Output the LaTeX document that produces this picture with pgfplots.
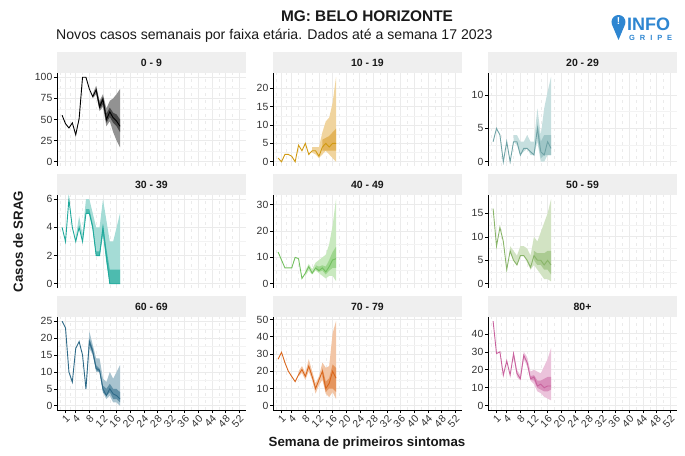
\documentclass[border=0pt]{standalone}
\usepackage{fontspec}
\setmainfont{Liberation Sans}
\usepackage{pgfplots}
\pgfplotsset{compat=1.18}
\definecolor{gridmaj}{HTML}{EBEBEB}
\definecolor{gridmin}{HTML}{F3F3F3}
\definecolor{stripc}{HTML}{EFEFEF}
\definecolor{logoblue}{HTML}{2E86D1}
% series colours: line, inner band, outer band
\definecolor{aL}{HTML}{000000}\definecolor{aI}{HTML}{474747}\definecolor{aO}{HTML}{929292}
\definecolor{bL}{HTML}{D19A12}\definecolor{bI}{HTML}{E3B45A}\definecolor{bO}{HTML}{F0D49E}
\definecolor{cL}{HTML}{6FA3A6}\definecolor{cI}{HTML}{9FC6C7}\definecolor{cO}{HTML}{C6DFDF}
\definecolor{dL}{HTML}{1FA99C}\definecolor{dI}{HTML}{4DBBAF}\definecolor{dO}{HTML}{A5DCD6}
\definecolor{eL}{HTML}{73C05F}\definecolor{eI}{HTML}{9ED68E}\definecolor{eO}{HTML}{C9E9BF}
\definecolor{fL}{HTML}{8AB56A}\definecolor{fI}{HTML}{ABCB92}\definecolor{fO}{HTML}{D2E3C3}
\definecolor{gL}{HTML}{2E6A88}\definecolor{gI}{HTML}{5F8FA6}\definecolor{gO}{HTML}{A8C3CF}
\definecolor{hL}{HTML}{D9661C}\definecolor{hI}{HTML}{E5955E}\definecolor{hO}{HTML}{F2C5A5}
\definecolor{iL}{HTML}{C9629E}\definecolor{iI}{HTML}{D98FBB}\definecolor{iO}{HTML}{EBC3DB}
\pgfplotsset{
  /pgf/number format/assume math mode=true,
  panel/.style={
    scale only axis, width=189pt, height=93pt,
    xmin=-1.5, xmax=54,
    axis x line*=bottom, axis y line*=left,
    axis line style={line width=0.7pt, black},
    xtick={1,4,8,12,16,20,24,28,32,36,40,44,48,52},
    minor xtick={-0.5,2.5,6,10,14,18,22,26,30,34,38,42,46,50},
    minor y tick num=1,
    xmajorgrids, ymajorgrids, xminorgrids, yminorgrids,
    major grid style={gridmaj, line width=0.7pt},
    minor grid style={gridmin, line width=0.5pt},
    minor x grid style={gridmaj, line width=0.5pt, dash pattern=on 3pt off 4pt},
    tick align=outside, major tick length=3pt, minor tick length=0pt,
    tick style={black, line width=0.6pt},
    ticklabel style={font=\fontsize{10.4}{11}\selectfont, text=black!80},
    yticklabel style={/pgf/number format/fixed, inner sep=1.5pt},
    xticklabel style={rotate=45, anchor=north east, inner sep=1pt},
  },
  toprow/.style={xticklabels={}, x axis line style={draw=none}, xtick style={draw=none}},
  ln/.style={line width=0.9pt, #1},
}
\newcommand{\striplabel}[2]{\node[font=\bfseries\fontsize{10.5}{12}\selectfont, text=black!90] at (#1) {#2};}
\begin{document}
\begin{tikzpicture}
\path[use as bounding box] (0pt,0pt) rectangle (685pt,455pt);
% titles
\node[font=\bfseries\fontsize{15.4}{17}\selectfont, text=black!90] at (367pt,439pt) {MG: BELO HORIZONTE};
\node[anchor=west, inner sep=0pt, font=\fontsize{14.1}{16}\selectfont, text=black!90] at (56pt,419pt) {Novos casos semanais por faixa etária. Dados até a semana 17 2023};
% logo
\fill[logoblue] (618.5pt,415pt) -- (611.9pt,430.6pt) arc[start angle=200, end angle=-20, radius=7pt] -- cycle;
\node[text=white, font=\bfseries\fontsize{10}{10}\selectfont] at (618.5pt,433.5pt) {!};
\node[anchor=west, inner sep=0pt, text=logoblue, font=\bfseries\fontsize{18}{18}\selectfont] at (627pt,431pt) {INFO};
\node[anchor=west, inner sep=0pt, text=logoblue, font=\bfseries\fontsize{7.5}{8}\selectfont] at (629pt,417.5pt) {\makebox[43pt][s]{G\hfill R\hfill I\hfill P\hfill E}};
% axis titles
\node[rotate=90, font=\bfseries\fontsize{13.3}{15}\selectfont, text=black!90] at (18pt,213.5pt) {Casos de SRAG};
\node[font=\bfseries\fontsize{13.3}{15}\selectfont, text=black!90] at (367pt,12pt) {Semana de primeiros sintomas};
% strips
\fill[stripc] (57pt,382pt) rectangle (246pt,403pt);
\fill[stripc] (273pt,382pt) rectangle (462pt,403pt);
\fill[stripc] (488pt,382pt) rectangle (677pt,403pt);
\fill[stripc] (57pt,260pt) rectangle (246pt,281pt);
\fill[stripc] (273pt,260pt) rectangle (462pt,281pt);
\fill[stripc] (488pt,260pt) rectangle (677pt,281pt);
\fill[stripc] (57pt,138pt) rectangle (246pt,159pt);
\fill[stripc] (273pt,138pt) rectangle (462pt,159pt);
\fill[stripc] (488pt,138pt) rectangle (677pt,159pt);
\striplabel{151.5pt,392.5pt}{0 - 9}
\striplabel{367.5pt,392.5pt}{10 - 19}
\striplabel{582.5pt,392.5pt}{20 - 29}
\striplabel{151.5pt,270.5pt}{30 - 39}
\striplabel{367.5pt,270.5pt}{40 - 49}
\striplabel{582.5pt,270.5pt}{50 - 59}
\striplabel{151.5pt,148.5pt}{60 - 69}
\striplabel{367.5pt,148.5pt}{70 - 79}
\striplabel{582.5pt,148.5pt}{80+}

% ---------- 0 - 9
\begin{axis}[panel, toprow, at={(57pt,382pt)}, anchor=north west,
  ymin=-5, ymax=105, ytick={0,25,50,75,100}]
\addplot[fill=aO, draw=none] coordinates {(9,80)(10,90)(11,72)(12,80)(13,63)(14,72)(15,75)(16,80)(17,86)
  (17,17)(16,25)(15,35)(14,48)(13,42)(12,65)(11,60)(10,80)(9,75)} -- cycle;
\addplot[fill=aI, draw=none] coordinates {(10,88)(11,69)(12,77)(13,57)(14,64)(15,58)(16,56)(17,50)
  (17,35)(16,42)(15,46)(14,53)(13,46)(12,68)(11,62)(10,82)} -- cycle;
\addplot[ln=aL] coordinates {(0,55)(1,45)(2,40)(3,46)(4,32)(5,51)(6,100)(7,100)(8,86)(9,77)(10,85)(11,65)(12,74)(13,50)(14,59)(15,52)(16,48)(17,42)};
\end{axis}
% ---------- 10 - 19
\begin{axis}[panel, toprow, at={(273pt,382pt)}, anchor=north west,
  ymin=-1.15, ymax=24.15, ytick={0,5,10,15,20}]
\addplot[fill=bO, draw=none] coordinates {(10,4)(11,4)(12,4)(13,8)(14,11)(15,12)(16,16)(17,23)
  (17,0)(16,1)(15,2)(14,3)(13,2)(12,1)(11,2)(10,2.5)} -- cycle;
\addplot[fill=bI, draw=none] coordinates {(13,6)(14,6.5)(15,7)(16,8)(17,9)
  (17,3)(16,3)(15,3)(14,3)(13,3)} -- cycle;
\addplot[ln=bL] coordinates {(0,1)(1,0)(2,2)(3,2)(4,1.5)(5,0)(6,4.5)(7,3)(8,5)(9,2)(10,3)(11,3)(12,1.5)(13,4)(14,5)(15,4)(16,5)(17,5)};
\end{axis}
% ---------- 20 - 29
\begin{axis}[panel, toprow, at={(488pt,382pt)}, anchor=north west,
  ymin=-0.64, ymax=13.3, ytick={0,5,10}]
\addplot[fill=cO, draw=none] coordinates {(6,4)(7,4)(8,3)(9,3)(10,4)(11,3)(12,3)(13,8)(14,4)(15,8)(16,10.5)(17,12.7)
  (17,1)(16,1)(15,0)(14,0)(13,3)(12,1)(11,1)(10,2)(9,1.5)(8,1)(7,2.5)(6,3)} -- cycle;
\addplot[fill=cI, draw=none] coordinates {(13,6)(14,3)(15,4)(16,4)(17,4)
  (17,1)(16,1)(15,1)(14,0.5)(13,3.5)} -- cycle;
\addplot[ln=cL] coordinates {(0,3)(1,5)(2,4)(3,0)(4,3)(5,0)(6,3)(7,3)(8,1)(9,2)(10,2)(11,1.5)(12,1)(13,5)(14,1.5)(15,1)(16,3)(17,2)};
\end{axis}
% ---------- 30 - 39
\begin{axis}[panel, toprow, at={(57pt,260pt)}, anchor=north west,
  ymin=-0.3, ymax=6.3, ytick={0,2,4,6}]
\addplot[fill=dO, draw=none] coordinates {(4,3.3)(5,4.8)(6,3.5)(7,6)(8,6)(9,5)(10,4)(11,4)(12,6)(13,4.5)(14,3)(15,3)(16,4)(17,5)
  (17,0)(16,0)(15,0)(14,0)(13,2)(12,3.5)(11,2)(10,2)(9,4)(8,5)(7,5)(6,3)(5,4)(4,3)} -- cycle;
\addplot[fill=dI, draw=none] coordinates {(7,5.3)(8,5.3)(9,4.2)(10,2.3)(11,2.3)(12,4.2)(13,2.5)(14,1)(15,1)(16,1)(17,1)
  (17,0)(16,0)(15,0)(14,0)(13,1.5)(12,3.5)(11,2)(10,2)(9,3.8)(8,5)(7,5)} -- cycle;
\addplot[ln=dL] coordinates {(0,4)(1,3)(2,6)(3,4)(4,3)(5,4)(6,3)(7,5)(8,5)(9,4)(10,2)(11,2)(12,4)(13,2)(14,0)(15,0)(16,0)(17,0)};
\end{axis}
% ---------- 40 - 49
\begin{axis}[panel, toprow, at={(273pt,260pt)}, anchor=north west,
  ymin=-1.6, ymax=33.6, ytick={0,10,20,30}]
\addplot[fill=eO, draw=none] coordinates {(8,5)(9,7.5)(10,5.5)(11,8)(12,9)(13,10)(14,11)(15,15)(16,22)(17,32)
  (17,1)(16,3)(15,3)(14,2)(13,3)(12,4)(11,5)(10,3.5)(9,5)(8,3)} -- cycle;
\addplot[fill=eI, draw=none] coordinates {(11,7)(12,6.5)(13,7)(14,6.5)(15,9)(16,12)(17,14)
  (17,6)(16,6)(15,5)(14,3.5)(13,5)(12,4.5)(11,5.5)} -- cycle;
\addplot[ln=eL] coordinates {(0,12)(1,9)(2,6)(3,6)(4,6)(5,10)(6,9.5)(7,2)(8,4)(9,6.5)(10,4)(11,6)(12,5)(13,6)(14,4.5)(15,6.5)(16,9)(17,9.5)};
\end{axis}
% ---------- 50 - 59
\begin{axis}[panel, toprow, at={(488pt,260pt)}, anchor=north west,
  ymin=-0.9, ymax=18.9, ytick={0,5,10,15}]
\addplot[fill=fO, draw=none] coordinates {(5,8)(6,7)(7,6)(8,8)(9,8)(10,7.5)(11,6)(12,10)(13,9)(14,11)(15,13)(16,15)(17,18)
  (17,0.5)(16,1)(15,1)(14,2)(13,3)(12,4)(11,3)(10,4.5)(9,6)(8,6)(7,4)(6,5)(5,6.5)} -- cycle;
\addplot[fill=fI, draw=none] coordinates {(12,7)(13,6.5)(14,6.5)(15,6.5)(16,7)(17,7)
  (17,2)(16,3)(15,3)(14,4)(13,4)(12,5)} -- cycle;
\addplot[ln=fL] coordinates {(0,16)(1,8)(2,12)(3,9)(4,3)(5,7)(6,5)(7,4)(8,6)(9,6)(10,5)(11,3.5)(12,6)(13,5)(14,5)(15,4)(16,5)(17,4)};
\end{axis}
% ---------- 60 - 69
\begin{axis}[panel, at={(57pt,138pt)}, anchor=north west,
  ymin=-1.25, ymax=26.25, ytick={0,5,10,15,20,25}]
\addplot[fill=gO, draw=none] coordinates {(7,5.5)(8,22)(9,18)(10,14)(11,14)(12,8)(13,7)(14,10)(15,8)(16,10)(17,12)
  (17,0)(16,1)(15,1)(14,3)(13,2)(12,4)(11,10)(10,10)(9,15)(8,17)(7,4.8)} -- cycle;
\addplot[fill=gI, draw=none] coordinates {(8,20)(9,17)(10,12)(11,11)(12,6)(13,5)(14,6.5)(15,5)(16,5)(17,4)
  (17,1)(16,2)(15,2)(14,4)(13,3)(12,4)(11,10)(10,10.5)(9,15.5)(8,18)} -- cycle;
\addplot[ln=gL] coordinates {(0,25)(1,23)(2,10)(3,7)(4,17)(5,19)(6,15)(7,5)(8,19)(9,16)(10,11)(11,10.5)(12,5)(13,3)(14,5)(15,3.5)(16,3)(17,2)};
\end{axis}
% ---------- 70 - 79
\begin{axis}[panel, at={(273pt,138pt)}, anchor=north west,
  ymin=-2.45, ymax=51.45, ytick={0,10,20,30,40,50}]
\addplot[fill=hO, draw=none] coordinates {(6,20)(7,23)(8,19)(9,27)(10,20)(11,13)(12,17)(13,25)(14,22)(15,23)(16,42)(17,49)
  (17,4)(16,8)(15,5)(14,7)(13,15)(12,12)(11,7)(10,15)(9,20)(8,15)(7,19)(6,17)} -- cycle;
\addplot[fill=hI, draw=none] coordinates {(13,22)(14,14)(15,16)(16,24)(17,22)
  (17,8)(16,10)(15,10)(14,8)(13,17)} -- cycle;
\addplot[ln=hL] coordinates {(0,27)(1,31)(2,25)(3,20)(4,17)(5,14)(6,18)(7,21)(8,17)(9,23)(10,17)(11,10)(12,15)(13,20)(14,10)(15,13)(16,20)(17,16)};
\end{axis}
% ---------- 80+
\begin{axis}[panel, at={(488pt,138pt)}, anchor=north west,
  ymin=-2.35, ymax=49.35, ytick={0,10,20,30,40}]
\addplot[fill=iO, draw=none] coordinates {(6,30)(7,20)(8,17)(9,30)(10,27)(11,19)(12,20)(13,19)(14,18)(15,22)(16,26)(17,32)
  (17,3)(16,4)(15,5)(14,7)(13,8)(12,12)(11,14)(10,22)(9,26)(8,14)(7,16)(6,27)} -- cycle;
\addplot[fill=iI, draw=none] coordinates {(11,16.5)(12,17)(13,14)(14,14)(15,15)(16,16)(17,16)
  (17,9)(16,8)(15,8)(14,9)(13,10)(12,14)(11,14.5)} -- cycle;
\addplot[ln=iL] coordinates {(0,47)(1,29)(2,30)(3,17)(4,25)(5,17)(6,29)(7,18)(8,15)(9,28)(10,24)(11,15)(12,16)(13,11)(14,12)(15,10)(16,11)(17,11)};
\end{axis}
\end{tikzpicture}
\end{document}
